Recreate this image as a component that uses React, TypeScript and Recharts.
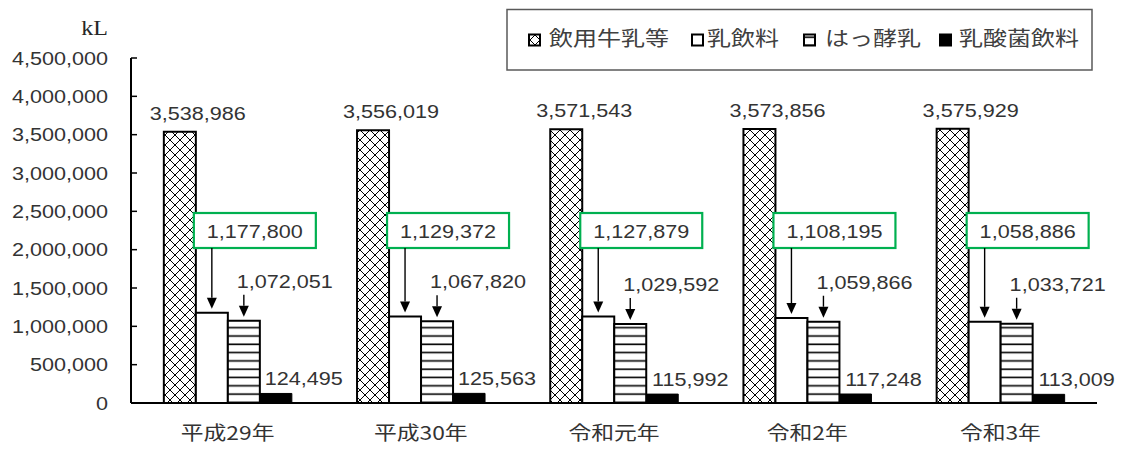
import { BarChart, Bar, XAxis, YAxis, Legend, LabelList } from "recharts";

// ── Data ──────────────────────────────────────────────────────────────────────

const YEARS = ["平成29年", "平成30年", "令和元年", "令和2年", "令和3年"];
const MILK = [3538986, 3556019, 3571543, 3573856, 3575929]; // 飲用牛乳等
const MILK_DRINK = [1177800, 1129372, 1127879, 1108195, 1058886]; // 乳飲料
const FERMENTED = [1072051, 1067820, 1029592, 1059866, 1033721]; // はっ酵乳
const LACTIC = [124495, 125563, 115992, 117248, 113009]; // 乳酸菌飲料
const SERIES_NAMES = ["飲用牛乳等", "乳飲料", "はっ酵乳", "乳酸菌飲料"];
const Y_TICKS = [0, 500000, 1000000, 1500000, 2000000, 2500000, 3000000, 3500000, 4000000, 4500000];
const UNIT = "kL";
// value level at which the green callout boxes sit
const BOX_LEVEL = 2250000;

const data = YEARS.map((year, i) => ({
  year,
  milk: MILK[i],
  drink: MILK_DRINK[i],
  fermented: FERMENTED[i],
  lactic: LACTIC[i],
}));

// ── Styling helpers ───────────────────────────────────────────────────────────

const NUM_FONT = '"Liberation Sans", Arial, sans-serif';
const CJK_FONT = '"Noto Sans CJK JP", "Noto Sans", sans-serif';
const SERIF_FONT = '"Liberation Serif", "Times New Roman", serif';
const TEXT = "#333";
const GREEN = "#00B050";
const STRETCH = 1.2;

const fmt = (v: number) => v.toLocaleString("en-US");

interface TxtProps {
  x: number;
  y: number;
  anchor?: "start" | "middle" | "end";
  size?: number;
  family?: string;
  fill?: string;
  children: React.ReactNode;
}

// the reference is rendered slightly wide, so text gets a horizontal stretch
function Txt({ x, y, anchor = "start", size = 18, family = NUM_FONT, fill = TEXT, children }: TxtProps) {
  return (
    <text
      transform={`translate(${x},${y}) scale(${STRETCH},1)`}
      textAnchor={anchor}
      fontSize={size}
      fontFamily={family}
      fill={fill}
    >
      {children}
    </text>
  );
}

function DownArrow({ x, from, to }: { x: number; from: number; to: number }) {
  const head = 11;
  return (
    <g>
      <line x1={x} x2={x} y1={from} y2={to - head} stroke="#000" strokeWidth={1.4} />
      <polygon points={`${x - 5},${to - head} ${x + 5},${to - head} ${x},${to}`} fill="#000" />
    </g>
  );
}

// ── Ticks ─────────────────────────────────────────────────────────────────────

function YTick({ x, y, payload }: any) {
  return (
    <g>
      <line x1={x} x2={x + 6} y1={y} y2={y} stroke="#000" strokeWidth={1.5} />
      <Txt x={x - 23} y={y + 6.5} anchor="end">
        {fmt(payload.value)}
      </Txt>
    </g>
  );
}

function XTick({ x, y, payload }: any) {
  return (
    <Txt x={x} y={y + 37} anchor="middle" size={19} family={CJK_FONT}>
      {payload.value}
    </Txt>
  );
}

// ── Labels ────────────────────────────────────────────────────────────────────

function MilkLabel({ x, y, width, value }: any) {
  return (
    <Txt x={x + width / 2 + 18} y={y - 12} anchor="middle">
      {fmt(value)}
    </Txt>
  );
}

function DrinkLabel({ x, y, width, height, value }: any) {
  const base = y + height;
  const mid = base - (BOX_LEVEL * height) / value;
  const cx = x + width / 2;
  const boxW = 122;
  const boxH = 35;
  return (
    <g>
      <rect x={x - 2} y={mid - boxH / 2} width={boxW} height={boxH} fill="#fff" stroke={GREEN} strokeWidth={2.2} />
      <Txt x={x - 2 + boxW / 2} y={mid + 7} anchor="middle">
        {fmt(value)}
      </Txt>
      <DownArrow x={cx} from={mid + boxH / 2} to={y - 4} />
    </g>
  );
}

function FermentedLabel({ x, y, width, value }: any) {
  const cx = x + width / 2;
  return (
    <g>
      <Txt x={cx + 41} y={y - 33} anchor="middle">
        {fmt(value)}
      </Txt>
      <DownArrow x={cx} from={y - 26} to={y - 4} />
    </g>
  );
}

function LacticLabel({ x, y, width, value }: any) {
  return (
    <Txt x={x + width / 2 + 28} y={y - 8} anchor="middle">
      {fmt(value)}
    </Txt>
  );
}

// ── Legend ────────────────────────────────────────────────────────────────────

const LEGEND_FILLS = ["url(#pat-cross)", "#fff", "url(#pat-stripe)", "#000"];
const LEGEND_ICON_X = [529, 692, 804, 940];
const LEGEND_TEXT_X = [549, 707, 825, 959];

function LegendBox() {
  return (
    <svg width={1126} height={80} style={{ display: "block" }}>
      <rect x={507} y={9.5} width={585} height={60.5} fill="#fff" stroke="#595959" strokeWidth={1.5} />
      {SERIES_NAMES.map((name, i) => (
        <g key={name}>
          <rect
            x={LEGEND_ICON_X[i]}
            y={34.5}
            width={11}
            height={11}
            fill={LEGEND_FILLS[i]}
            stroke="#000"
            strokeWidth={2}
          />
          <Txt x={LEGEND_TEXT_X[i]} y={46} size={20} family={CJK_FONT} fill="#404040">
            {name}
          </Txt>
        </g>
      ))}
    </svg>
  );
}

// ── Chart ─────────────────────────────────────────────────────────────────────

export default function App() {
  return (
    <div style={{ position: "absolute", left: 0, top: 0, width: 1126, height: 449, background: "#fff" }}>
      <BarChart
        width={1126}
        height={449}
        data={data}
        margin={{ top: 58, right: 29, bottom: 0, left: 0 }}
        barCategoryGap="17%"
        barGap={0}
      >
        <defs>
          <pattern id="pat-cross" width={10} height={10} patternUnits="userSpaceOnUse">
            <rect width={10} height={10} fill="#fff" />
            <path d="M0,0 L10,10 M10,0 L0,10" stroke="#000" strokeWidth={1} />
          </pattern>
          <pattern id="pat-stripe" width={8} height={8.3} patternUnits="userSpaceOnUse">
            <rect width={8} height={8.3} fill="#fff" />
            <line x1={0} x2={8} y1={4} y2={4} stroke="#000" strokeWidth={1.6} />
          </pattern>
        </defs>
        <XAxis
          dataKey="year"
          height={46}
          tickLine={false}
          tickSize={0}
          tickMargin={0}
          axisLine={{ stroke: "#000", strokeWidth: 2 }}
          tick={<XTick />}
          interval={0}
        />
        <YAxis
          width={131}
          domain={[0, 4500000]}
          ticks={Y_TICKS}
          interval={0}
          tickLine={false}
          tickSize={0}
          tickMargin={0}
          axisLine={{ stroke: "#000", strokeWidth: 2 }}
          tick={<YTick />}
          label={{
            content: () => (
              <Txt x={108} y={35} anchor="end" size={20} family={SERIF_FONT} fill="#262626">
                {UNIT}
              </Txt>
            ),
          }}
        />
        <Legend
          verticalAlign="middle"
          align="center"
          wrapperStyle={{ left: 0, top: 0, width: 1126, height: 80 }}
          content={() => <LegendBox />}
        />
        <Bar dataKey="milk" name={SERIES_NAMES[0]} fill="url(#pat-cross)" stroke="#000" strokeWidth={2} isAnimationActive={false}>
          <LabelList dataKey="milk" content={<MilkLabel />} />
        </Bar>
        <Bar dataKey="drink" name={SERIES_NAMES[1]} fill="#fff" stroke="#000" strokeWidth={2} isAnimationActive={false}>
          <LabelList dataKey="drink" content={<DrinkLabel />} />
        </Bar>
        <Bar dataKey="fermented" name={SERIES_NAMES[2]} fill="url(#pat-stripe)" stroke="#000" strokeWidth={2} isAnimationActive={false}>
          <LabelList dataKey="fermented" content={<FermentedLabel />} />
        </Bar>
        <Bar dataKey="lactic" name={SERIES_NAMES[3]} fill="#000" stroke="#000" strokeWidth={1} isAnimationActive={false}>
          <LabelList dataKey="lactic" content={<LacticLabel />} />
        </Bar>
      </BarChart>
    </div>
  );
}
